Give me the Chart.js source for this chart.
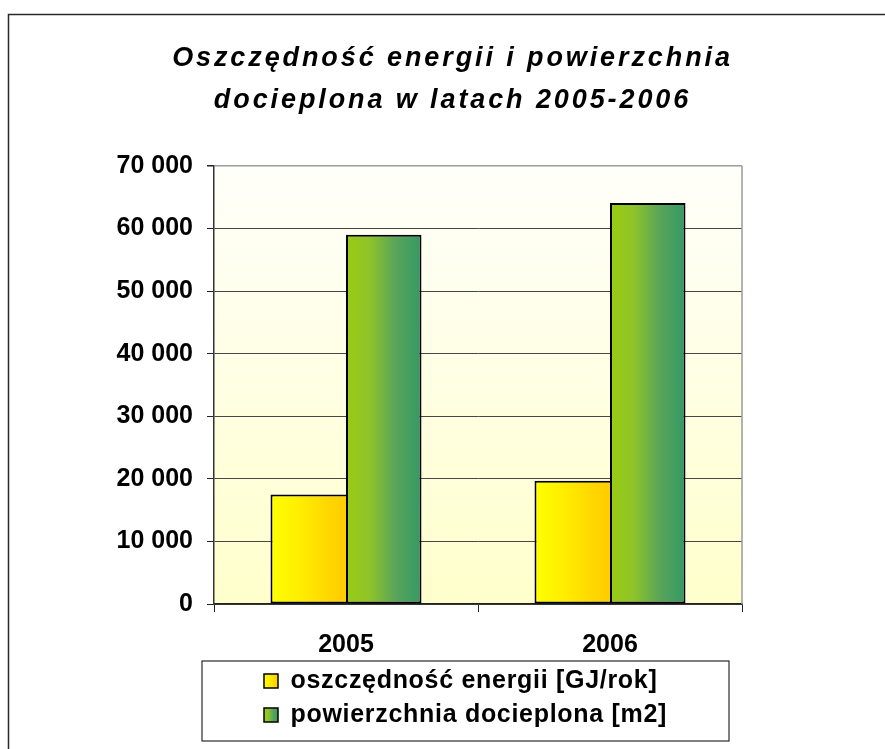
<!DOCTYPE html>
<html>
<head>
<meta charset="utf-8">
<script src="https://cdn.jsdelivr.net/npm/chart.js@4/dist/chart.umd.min.js"></script>
<style>
  html, body { margin: 0; padding: 0; background: #ffffff; }
  canvas { display: block; }
</style>
</head>
<body>
<canvas id="c" width="885" height="749"></canvas>
<script>
// ---- data ----
const chartTitle = ['Oszczędność energii i powierzchnia', 'docieplona w latach 2005-2006'];
const categories = ['2005', '2006'];
const seriesNames = ['oszczędność energii [GJ/rok]', 'powierzchnia docieplona [m2]'];
const energySaving = [17500, 19700];     // GJ/rok
const insulatedArea = [59000, 64100];    // m2
const yMin = 0;
const yMax = 70000;
const yStep = 10000;

// ---- styling ----
const FONT = "'Liberation Sans', Arial, sans-serif";
const CAT_PCT = 0.572;
const LEGEND_LEFT = 255;
const LEGEND_TOP = 659.5;
const yellowStops = [[0, '#FFFF00'], [0.35, '#FFEF00'], [0.8, '#FFD500'], [1, '#FFCC00']];
const greenStops = [[0, '#99CC11'], [0.3, '#90C428'], [0.65, '#5AA558'], [1, '#339966']];

function fmt(v) { return String(v).replace(/\B(?=(\d{3})+(?!\d))/g, ' '); }

function hGradient(ctx, x0, w, stops) {
  if (!isFinite(x0) || !isFinite(w) || w <= 0) return stops[Math.floor(stops.length / 2)][1];
  const g = ctx.createLinearGradient(x0, 0, x0 + w, 0);
  stops.forEach(s => g.addColorStop(s[0], s[1]));
  return g;
}

function barGradient(c, stops, side) {
  const chart = c.chart;
  const solid = stops[Math.floor(stops.length / 2)][1];
  if (c.dataIndex === undefined) return solid;
  const xs = chart.scales && chart.scales.x;
  if (!xs || !xs.width) return solid;
  const center = xs.getPixelForValue(c.dataIndex);
  const barW = (xs.width / categories.length) * CAT_PCT / 2;
  const x0 = side === 0 ? center - barW : center;
  return hGradient(chart.ctx, x0, barW, stops);
}

const decorPlugin = {
  id: 'decor',
  afterInit(chart) {
    const ctx = chart.ctx;
    const tb = chart.titleBlock;
    if (tb) {
      const orig = tb.draw.bind(tb);
      tb.draw = function (a) { ctx.save(); ctx.letterSpacing = '2.9px'; orig(a); ctx.restore(); };
    }
    const lg = chart.legend;
    if (lg) {
      const origL = lg.draw.bind(lg);
      lg.draw = function (a) { ctx.save(); ctx.letterSpacing = '0.7px'; origL(a); ctx.restore(); };
    }
  },
  afterLayout(chart) {
    const lg = chart.legend;
    if (lg) {
      lg.left = LEGEND_LEFT; lg.top = LEGEND_TOP;
      lg.right = lg.left + 480; lg.bottom = lg.top + 100;
    }
  },
  beforeDraw(chart) {
    const ctx = chart.ctx;
    const a = chart.chartArea;
    ctx.save();
    ctx.fillStyle = '#ffffff';
    ctx.fillRect(0, 0, chart.width, chart.height);
    ctx.strokeStyle = '#2a2a2a';
    ctx.lineWidth = 1.5;
    ctx.beginPath();
    ctx.moveTo(8.5, chart.height + 2);
    ctx.lineTo(8.5, 14.5);
    ctx.lineTo(chart.width + 2, 14.5);
    ctx.stroke();
    if (a && isFinite(a.top) && isFinite(a.bottom) && a.bottom > a.top) {
      const g = ctx.createLinearGradient(0, a.top, 0, a.bottom);
      g.addColorStop(0, '#FFFFFA');
      g.addColorStop(1, '#FFFFCC');
      ctx.fillStyle = g;
      ctx.fillRect(a.left, a.top, a.right - a.left, a.bottom - a.top);
    }
    ctx.restore();
  },
  afterDraw(chart) {
    const ctx = chart.ctx;
    const a = chart.chartArea;
    ctx.save();
    ctx.strokeStyle = '#9a9a9a';
    ctx.lineWidth = 1.5;
    ctx.beginPath();
    ctx.moveTo(a.right, a.top);
    ctx.lineTo(a.right, a.bottom);
    ctx.stroke();
    const lg = chart.legend;
    ctx.strokeStyle = '#2a2a2a';
    ctx.lineWidth = 1.2;
    ctx.strokeRect(lg.left - 53, lg.top + 1.5, 527, 80);
    ctx.restore();
  }
};

new Chart(document.getElementById('c'), {
  type: 'bar',
  data: {
    labels: categories,
    datasets: [
      {
        label: seriesNames[0],
        data: energySaving,
        yAxisID: 'y',
        backgroundColor: c => barGradient(c, yellowStops, 0),
        borderColor: '#000000',
        borderWidth: 2,
        borderSkipped: 'right',
        categoryPercentage: CAT_PCT,
        barPercentage: 1.0
      },
      {
        label: seriesNames[1],
        data: insulatedArea,
        yAxisID: 'y',
        backgroundColor: c => barGradient(c, greenStops, 1),
        borderColor: '#000000',
        borderWidth: 2,
        borderSkipped: false,
        categoryPercentage: CAT_PCT,
        barPercentage: 1.0
      }
    ]
  },
  options: {
    responsive: false,
    animation: false,
    events: [],
    layout: { padding: { left: 20, right: 0, top: 0, bottom: 95 } },
    plugins: {
      tooltip: { enabled: false },
      title: {
        display: true,
        text: chartTitle,
        color: '#000000',
        font: { family: FONT, size: 27, weight: 'bold', style: 'italic', lineHeight: 42.5 / 27 },
        padding: { top: 37, bottom: 44 }
      },
      legend: {
        display: true,
        position: 'chartArea',
        align: 'start',
        labels: {
          color: '#000000',
          font: { family: FONT, size: 25, weight: 'bold' },
          boxWidth: 14,
          boxHeight: 14,
          padding: 9,
          generateLabels(chart) {
            const ctx = chart.ctx;
            const x0 = LEGEND_LEFT + 9;
            return seriesNames.map((name, i) => ({
              text: name,
              fillStyle: hGradient(ctx, x0, 14, i === 0 ? yellowStops : greenStops),
              strokeStyle: '#000000',
              lineWidth: 1.5,
              hidden: false,
              datasetIndex: i
            }));
          }
        }
      }
    },
    scales: {
      x: {
        type: 'category',
        offset: true,
        grid: { display: true, drawOnChartArea: false, drawTicks: true, tickLength: 8, color: '#222222', offset: true },
        border: { display: true, color: '#222222', width: 1.5 },
        ticks: { color: '#000000', font: { family: FONT, size: 25, weight: 'bold' }, padding: 18, maxRotation: 0 },
        afterFit(s) { s.height = 50; }
      },
      y: {
        type: 'linear',
        position: 'left',
        min: yMin,
        max: yMax,
        grid: {
          color: c => (c.tick && c.tick.value === yMax ? '#9a9a9a' : '#474747'),
          lineWidth: c => (c.tick && c.tick.value === yMax ? 1.5 : 1),
          tickColor: '#222222',
          tickLength: 7,
          drawTicks: true
        },
        border: { display: true, color: '#333333', width: 1.5 },
        ticks: {
          stepSize: yStep,
          color: '#000000',
          font: { family: FONT, size: 25, weight: 'bold' },
          padding: 14,
          callback: v => fmt(v)
        },
        afterFit(s) { s.width = 194; }
      },
      yR: {
        type: 'linear',
        axis: 'y',
        position: 'right',
        display: true,
        grid: { display: false, drawTicks: false },
        border: { display: false },
        ticks: { display: false },
        afterFit(s) { s.width = 143; }
      }
    }
  },
  plugins: [decorPlugin]
});
</script>
</body>
</html>
